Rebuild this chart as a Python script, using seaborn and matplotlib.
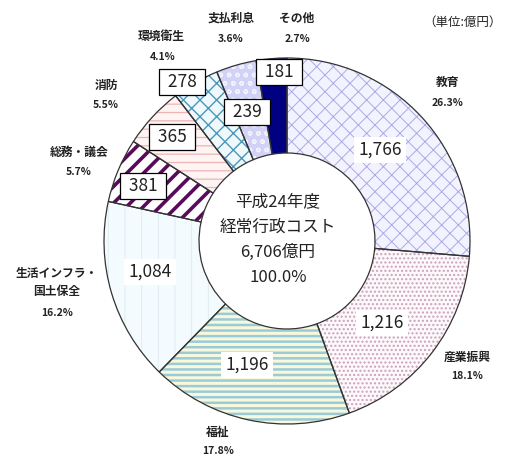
import seaborn as sns
import matplotlib.pyplot as plt

# data (億円, 平成24年度 経常行政コスト)
categories = ['教育', '産業振興', '福祉', '生活インフラ・\n国土保全', '総務・議会',
              '消防', '環境衛生', '支払利息', 'その他']
values = [1766, 1216, 1196, 1084, 381, 365, 278, 239, 181]
value_labels = ['1,766', '1,216', '1,196', '1,084', '381', '365', '278', '239', '181']
pct_labels = ['26.3%', '18.1%', '17.8%', '16.2%', '5.7%', '5.5%', '4.1%', '3.6%', '2.7%']
center_lines = ['平成24年度', '経常行政コスト', '6,706億円', '100.0%']

# styling per slice: face, hatch, hatch colour, hatch width
faces = ['#f3f3ff', '#fdf8fb', '#f8f8dc', '#f3fbfe', 'white', '#fff4f4', '#eff8fb', '#d2d2f7', '#000080']
hatches = ['xx', '....', '---', '|', '//', '--', 'xx', 'oo', '']
hatch_cols = ['#aaaae6', '#c9a3b8', '#9ccbd8', '#dfeaf0', '#5a0a5a', '#eeb4b4', '#4a97bd', '#f2f2ff', '#000080']
hatch_lws = [0.7, 1.0, 1.8, 0.6, 2.6, 0.9, 1.0, 1.0, 1.0]

W, H = 511, 457
sns.set_theme(style='white')
plt.rcParams['font.family'] = ['Noto Sans CJK JP', 'DejaVu Sans']

fig = plt.figure(figsize=(W / 100, H / 100), dpi=100)
ax = fig.add_axes([0, 0, 1, 1])

cx, cy = 287, H - 241
r_out, r_in = 183, 88

# hatched fills
wedges, _ = ax.pie(values, startangle=90, counterclock=False, center=(cx, cy),
                   radius=r_out, frame=True,
                   wedgeprops=dict(width=r_out - r_in, linewidth=0))
for w, fc, h, hc, hl in zip(wedges, faces, hatches, hatch_cols, hatch_lws):
    w.set_facecolor(fc)
    w.set_hatch(h)
    w.set_edgecolor(hc)
    if hasattr(w, 'set_hatch_linewidth'):
        w.set_hatch_linewidth(hl)

# outlines
ax.pie(values, startangle=90, counterclock=False, center=(cx, cy), radius=r_out, frame=True,
       wedgeprops=dict(width=r_out - r_in, fill=False, edgecolor='#333333', linewidth=0.9))
ax.set_xlim(0, W)
ax.set_ylim(0, H)
ax.set_aspect('equal')
ax.axis('off')

# value labels inside ring
val_pos = [(380, 150), (382, 323), (247, 365), (150, 272), (143, 186),
           (172, 137), (182, 82), (247, 112), (279, 72)]
for i, (lab, (x, y)) in enumerate(zip(value_labels, val_pos)):
    boxed = values[i] < 500
    txt = ' ' + lab + ' ' if boxed else lab
    ax.text(x, H - y, txt, ha='center', va='center', fontsize=12.5, color='#222222',
            bbox=dict(boxstyle='square,pad=0.25', fc='white',
                      ec='black' if boxed else 'none', lw=0.9))

# category labels outside
cat_pos = [(448, 82), (467, 357), (218, 432), (57, 283), (79, 152),
           (106, 85), (161, 36), (231, 18), (297, 18)]
pct_pos = [(448, 103), (467, 376), (218, 451), (57, 313), (79, 172),
           (106, 105), (163, 57), (231, 39), (297, 39)]
for c, p, (x, y), (px, pyy) in zip(categories, pct_labels, cat_pos, pct_pos):
    ax.text(x, H - y, c, ha='center', va='center', fontsize=8.5, color='#222222',
            fontweight='bold', linespacing=1.5)
    ax.text(px, H - pyy, p, ha='center', va='center', fontsize=7.5, color='#222222',
            fontweight='bold')

# centre text
for k, line in enumerate(center_lines):
    ax.text(278, H - (202 + 25 * k), line, ha='center', va='center', fontsize=12,
            color='#222222')

ax.text(462, H - 22, '（単位:億円）', ha='center', va='center', fontsize=9, color='#222222')

fig.savefig('out.png', dpi=100)
